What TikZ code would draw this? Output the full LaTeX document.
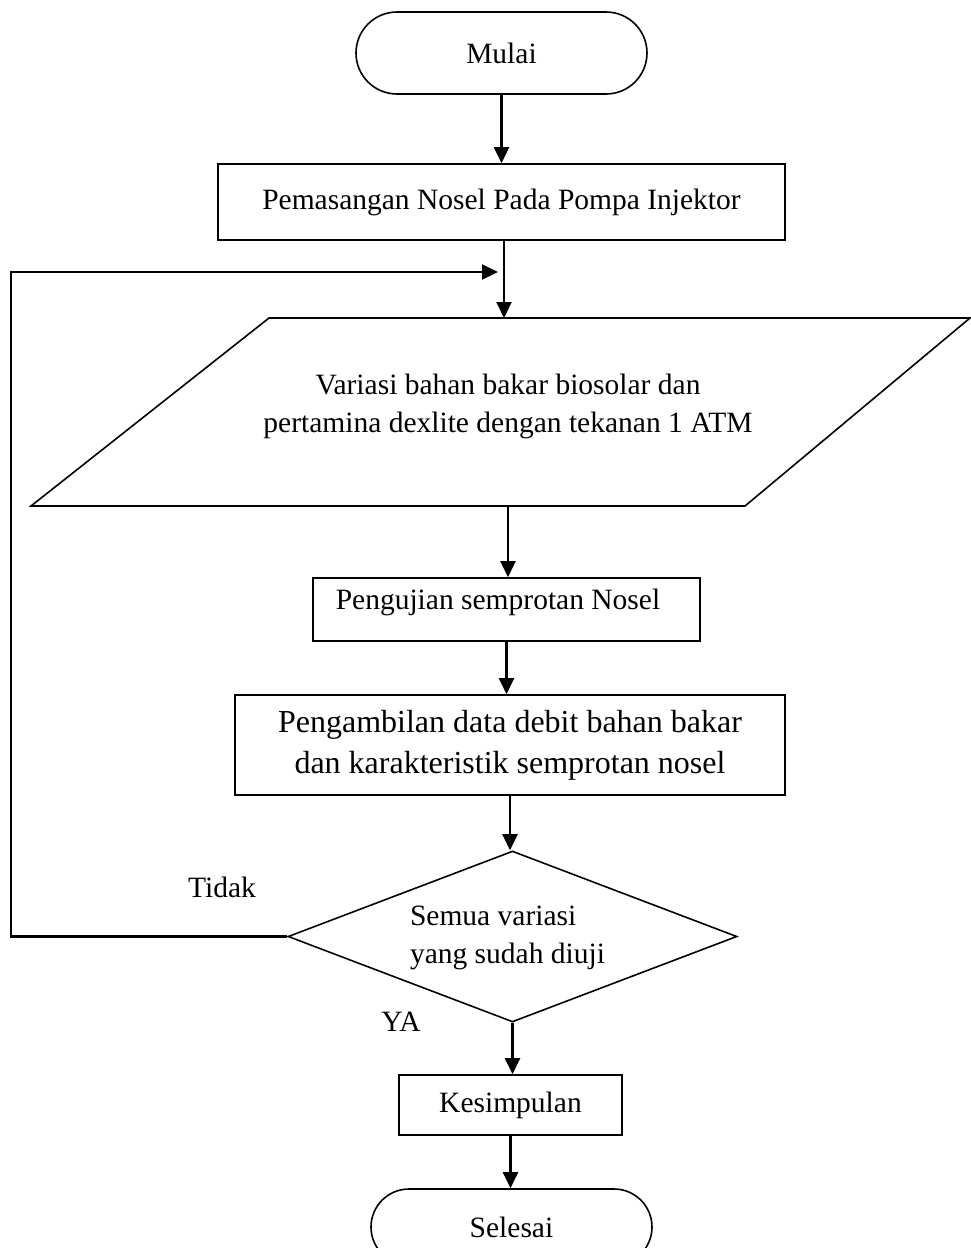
\documentclass[tikz,border=0pt]{standalone}
\usepackage{fontspec}
\setmainfont{Liberation Serif}
\usetikzlibrary{arrows.meta,shapes.geometric}
\newcommand\normsz{\fontsize{29.5}{38}\selectfont}
\newcommand\bigsz{\fontsize{32}{41}\selectfont}
\begin{document}
\begin{tikzpicture}[x=1pt,y=-1pt,
  shp/.style={draw,line width=1.6pt,inner sep=0pt,align=center,font=\normsz},
  term/.style={shp,rounded corners=#1,minimum width=0pt},
  stepbox/.style={shp},
  dec/.style={shp,diamond,aspect=2.63},
  lbl/.style={font=\normsz,inner sep=0pt,align=center},
  arr/.style={line width=2.2pt,-{Triangle[length=16pt,width=15pt]}},
  ln/.style={line width=2pt}]
\path[use as bounding box] (0,0) rectangle (971,1248);
\clip (0,0) rectangle (971,1248);

\node[term=41pt,minimum width=291pt,minimum height=82pt] (mulai) at (501.5,53) {Mulai};
\node[stepbox,minimum width=567pt,minimum height=76pt] (pem) at (501.5,202) {\raisebox{6pt}{Pemasangan Nosel Pada Pompa Injektor}};

\draw[line width=1.6pt] (269,318) coordinate (ptl) -- (970,318) coordinate (ptr)
   -- (745,506) coordinate (pbr) -- (31,506) coordinate (pbl) -- cycle;
\coordinate (vtop) at (504,318);
\coordinate (vbot) at (508,506);
\node[lbl] (var) at (508,406) {Variasi bahan bakar biosolar dan\\pertamina dexlite dengan tekanan 1 ATM};

\node[stepbox,minimum width=387pt,minimum height=63pt] (uji) at (506.5,609.5) {};
\node[lbl] (ujitxt) at (498,602) {Pengujian semprotan Nosel};

\node[stepbox,minimum width=550pt,minimum height=100pt,font=\bigsz] (ambil) at (510,745) {Pengambilan data debit bahan bakar\\dan karakteristik semprotan nosel};

\node[dec,minimum width=449pt,minimum height=171pt] (dia) at (512.5,936.5) {};
\node[lbl,align=left] (diatxt) at (507.5,938) {Semua variasi\\yang sudah diuji};

\node[stepbox,minimum width=223pt,minimum height=60pt] (kes) at (510.5,1105) {Kesimpulan};
\node[term=38pt,minimum width=281pt,minimum height=76pt] (sel) at (511.5,1227) {Selesai};

\node[lbl] (tidak) at (222,887) {Tidak};
\node[lbl] (ya) at (401,1022) {YA};

\coordinate (loopend) at (498,272);
\coordinate (loopbl) at (11,936.5);
\coordinate (looptl) at (11,272);

\draw[arr] (mulai.south) -- (pem.north);
\draw[arr] (vtop |- pem.south) -- (vtop);
\draw[arr] (vbot) -- (vbot |- uji.north);
\draw[arr] (uji.south) -- (uji.south |- ambil.north);
\draw[arr] (ambil.south) -- (ambil.south |- dia.north);
\draw[arr] (dia.south) -- (dia.south |- kes.north);
\draw[arr] (kes.south) -- (kes.south |- sel.north);
\draw[arr] (dia.west) -- (loopbl) -- (looptl) -- (loopend);
\end{tikzpicture}
\end{document}
